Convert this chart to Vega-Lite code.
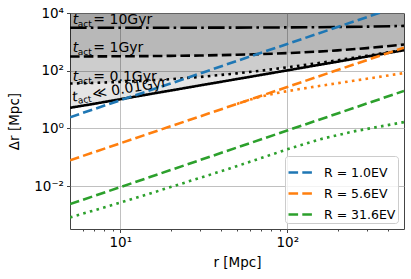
{
  "$schema": "https://vega.github.io/schema/vega-lite/v6.json",
  "width": 334,
  "height": 216,
  "autosize": "none",
  "padding": {"left": 70, "top": 13, "right": 7, "bottom": 50},
  "config": {
    "font": "DejaVu Sans",
    "view": {"stroke": "#444", "strokeWidth": 1},
    "axis": {
      "domain": false,
      "grid": true,
      "gridColor": "#b0b0b0",
      "gridWidth": 0.8,
      "tickColor": "#444",
      "labelFont": "DejaVu Sans",
      "labelFontSize": 13.5,
      "labelColor": "#000",
      "titleFont": "DejaVu Sans",
      "titleFontSize": 13.5,
      "titleFontWeight": "normal",
      "titleColor": "#000",
      "labelOverlap": false,
      "labelFlush": false
    },
    "legend": {
      "labelFont": "DejaVu Sans",
      "labelFontSize": 12.5,
      "labelColor": "#000"
    }
  },
  "datasets": {
    "black": [
      {"r": 5, "dr": 5.2, "style": "solid"}, {"r": 7, "dr": 7.2, "style": "solid"}, {"r": 10, "dr": 10.3, "style": "solid"}, {"r": 15, "dr": 15.5, "style": "solid"}, {"r": 20, "dr": 20.6, "style": "solid"}, {"r": 30, "dr": 31, "style": "solid"}, {"r": 50, "dr": 51.5, "style": "solid"}, {"r": 70, "dr": 72, "style": "solid"}, {"r": 100, "dr": 103, "style": "solid"}, {"r": 150, "dr": 155, "style": "solid"}, {"r": 200, "dr": 206, "style": "solid"}, {"r": 300, "dr": 309, "style": "solid"}, {"r": 500, "dr": 515, "style": "solid"},
      {"r": 5, "dr": 36, "style": "dotted"}, {"r": 7, "dr": 38, "style": "dotted"}, {"r": 10, "dr": 41, "style": "dotted"}, {"r": 15, "dr": 46, "style": "dotted"}, {"r": 20, "dr": 51, "style": "dotted"}, {"r": 30, "dr": 61, "style": "dotted"}, {"r": 50, "dr": 81, "style": "dotted"}, {"r": 70, "dr": 101, "style": "dotted"}, {"r": 100, "dr": 131, "style": "dotted"}, {"r": 150, "dr": 181, "style": "dotted"}, {"r": 200, "dr": 231, "style": "dotted"}, {"r": 300, "dr": 331, "style": "dotted"}, {"r": 500, "dr": 531, "style": "dotted"},
      {"r": 5, "dr": 312, "style": "dashed"}, {"r": 7, "dr": 314, "style": "dashed"}, {"r": 10, "dr": 317, "style": "dashed"}, {"r": 15, "dr": 322, "style": "dashed"}, {"r": 20, "dr": 327, "style": "dashed"}, {"r": 30, "dr": 337, "style": "dashed"}, {"r": 50, "dr": 357, "style": "dashed"}, {"r": 70, "dr": 377, "style": "dashed"}, {"r": 100, "dr": 407, "style": "dashed"}, {"r": 150, "dr": 457, "style": "dashed"}, {"r": 200, "dr": 507, "style": "dashed"}, {"r": 300, "dr": 607, "style": "dashed"}, {"r": 500, "dr": 807, "style": "dashed"},
      {"r": 5, "dr": 3075, "style": "dashdot"}, {"r": 7, "dr": 3077, "style": "dashdot"}, {"r": 10, "dr": 3080, "style": "dashdot"}, {"r": 15, "dr": 3085, "style": "dashdot"}, {"r": 20, "dr": 3090, "style": "dashdot"}, {"r": 30, "dr": 3100, "style": "dashdot"}, {"r": 50, "dr": 3120, "style": "dashdot"}, {"r": 70, "dr": 3140, "style": "dashdot"}, {"r": 100, "dr": 3170, "style": "dashdot"}, {"r": 150, "dr": 3220, "style": "dashdot"}, {"r": 200, "dr": 3270, "style": "dashdot"}, {"r": 300, "dr": 3370, "style": "dashdot"}, {"r": 500, "dr": 3570, "style": "dashdot"}
    ],
    "colored": [
      {"r": 5, "dr": 2.45, "R": "R = 1.0EV", "style": "dashed"}, {"r": 10, "dr": 9.5, "R": "R = 1.0EV", "style": "dashed"}, {"r": 20, "dr": 36, "R": "R = 1.0EV", "style": "dashed"}, {"r": 50, "dr": 219, "R": "R = 1.0EV", "style": "dashed"}, {"r": 100, "dr": 845, "R": "R = 1.0EV", "style": "dashed"}, {"r": 200, "dr": 3270, "R": "R = 1.0EV", "style": "dashed"}, {"r": 350, "dr": 9730, "R": "R = 1.0EV", "style": "dashed"}, {"r": 500, "dr": 19500, "R": "R = 1.0EV", "style": "dashed"},
      {"r": 5, "dr": 0.079, "R": "R = 5.6EV", "style": "dashed"}, {"r": 10, "dr": 0.307, "R": "R = 5.6EV", "style": "dashed"}, {"r": 20, "dr": 1.19, "R": "R = 5.6EV", "style": "dashed"}, {"r": 50, "dr": 7.08, "R": "R = 5.6EV", "style": "dashed"}, {"r": 100, "dr": 27.4, "R": "R = 5.6EV", "style": "dashed"}, {"r": 200, "dr": 106, "R": "R = 5.6EV", "style": "dashed"}, {"r": 500, "dr": 631, "R": "R = 5.6EV", "style": "dashed"},
      {"r": 50, "dr": 7.1, "R": "R = 5.6EV", "style": "dotted"}, {"r": 60, "dr": 10.0, "R": "R = 5.6EV", "style": "dotted"}, {"r": 70, "dr": 12.8, "R": "R = 5.6EV", "style": "dotted"}, {"r": 85, "dr": 16.5, "R": "R = 5.6EV", "style": "dotted"}, {"r": 104, "dr": 20.4, "R": "R = 5.6EV", "style": "dotted"}, {"r": 137, "dr": 26.5, "R": "R = 5.6EV", "style": "dotted"}, {"r": 250, "dr": 45, "R": "R = 5.6EV", "style": "dotted"}, {"r": 500, "dr": 83, "R": "R = 5.6EV", "style": "dotted"},
      {"r": 5, "dr": 0.0024, "R": "R = 31.6EV", "style": "dashed"}, {"r": 10, "dr": 0.0093, "R": "R = 31.6EV", "style": "dashed"}, {"r": 20, "dr": 0.0363, "R": "R = 31.6EV", "style": "dashed"}, {"r": 50, "dr": 0.219, "R": "R = 31.6EV", "style": "dashed"}, {"r": 100, "dr": 0.851, "R": "R = 31.6EV", "style": "dashed"}, {"r": 200, "dr": 3.31, "R": "R = 31.6EV", "style": "dashed"}, {"r": 500, "dr": 20, "R": "R = 31.6EV", "style": "dashed"},
      {"r": 5, "dr": 0.00083, "R": "R = 31.6EV", "style": "dotted"}, {"r": 10, "dr": 0.00269, "R": "R = 31.6EV", "style": "dotted"}, {"r": 20, "dr": 0.00933, "R": "R = 31.6EV", "style": "dotted"}, {"r": 45.6, "dr": 0.0417, "R": "R = 31.6EV", "style": "dotted"}, {"r": 100, "dr": 0.19, "R": "R = 31.6EV", "style": "dotted"}, {"r": 158, "dr": 0.427, "R": "R = 31.6EV", "style": "dotted"}, {"r": 250, "dr": 0.794, "R": "R = 31.6EV", "style": "dotted"}, {"r": 500, "dr": 1.66, "R": "R = 31.6EV", "style": "dotted"}
    ],
    "labels": [
      {"r": 5.2, "dr": 4150, "rest": "= 10Gyr"},
      {"r": 5.2, "dr": 436, "rest": "= 1Gyr"},
      {"r": 5.2, "dr": 45.4, "rest": "= 0.1Gyr"},
      {"r": 5.2, "dr": 8.5, "rest": "≪ 0.01Gyr"}
    ]
  },
  "encoding": {
    "x": {
      "field": "r", "type": "quantitative",
      "scale": {"type": "log", "domain": [5, 500], "nice": false},
      "axis": {
        "title": "r [Mpc]",
        "titlePadding": 6,
        "values": [6, 7, 8, 9, 10, 20, 30, 40, 50, 60, 70, 80, 90, 100, 200, 300, 400],
        "labelExpr": "datum.value == 10 ? '10¹' : (datum.value == 100 ? '10²' : '')",
        "tickSize": {"condition": {"test": "datum.value == 10 || datum.value == 100", "value": 3.5}, "value": 2},
        "gridOpacity": {"condition": {"test": "datum.value == 10 || datum.value == 100", "value": 1}, "value": 0},
        "labelPadding": 3
      }
    },
    "y": {
      "field": "dr", "type": "quantitative",
      "scale": {"type": "log", "domain": [0.00033, 10000], "nice": false},
      "axis": {
        "title": "Δr [Mpc]",
        "titlePadding": 12,
        "values": [0.01, 1, 100, 10000],
        "labelExpr": "datum.value < 0.1 ? '10⁻²' : (datum.value < 10 ? '10⁰' : (datum.value < 1000 ? '10²' : '10⁴'))",
        "tickSize": 3.5,
        "labelPadding": 3
      }
    }
  },
  "layer": [
    {
      "data": {"name": "black"},
      "mark": {"type": "area", "color": "#000", "opacity": 0.1, "clip": true},
      "encoding": {
        "y": {"field": "dr", "type": "quantitative", "stack": null},
        "y2": {"datum": 10000},
        "detail": {"field": "style"}
      }
    },
    {
      "data": {"name": "black"},
      "mark": {"type": "line", "color": "#000", "strokeWidth": 2.6, "clip": true},
      "encoding": {
        "strokeDash": {"field": "style", "type": "nominal", "legend": null,
          "scale": {"domain": ["solid", "dotted", "dashed", "dashdot"], "range": [[1, 0], [2.6, 4.3], [9.6, 4.2], [16.6, 4.2, 2.6, 4.2]]}}
      }
    },
    {
      "data": {"name": "colored"},
      "mark": {"type": "line", "strokeWidth": 2.6, "clip": true},
      "encoding": {
        "color": {"field": "R", "type": "nominal",
          "scale": {"domain": ["R = 1.0EV", "R = 5.6EV", "R = 31.6EV"], "range": ["#1f77b4", "#ff7f0e", "#2ca02c"]},
          "legend": {
            "title": null, "orient": "bottom-right", "offset": 6, "padding": 2,
            "strokeColor": "#cccccc", "fillColor": "rgba(255,255,255,0.8)", "cornerRadius": 3,
            "symbolType": "stroke", "symbolSize": 676, "symbolStrokeWidth": 2.6, "symbolDash": [9.6, 4.2],
            "rowPadding": -7, "labelOffset": 8
          }
        },
        "strokeDash": {"field": "style", "type": "nominal", "legend": null},
        "detail": {"field": "R"}
      }
    },
    {
      "data": {"name": "labels"},
      "mark": {"type": "text", "align": "left", "baseline": "alphabetic", "fontSize": 14, "fontStyle": "italic", "text": "t"},
      "encoding": {
        "angle": {"condition": {"test": "indexof(datum.rest, '≪') >= 0", "value": 351}, "value": 0}
      }
    },
    {
      "data": {"name": "labels"},
      "mark": {"type": "text", "align": "left", "baseline": "alphabetic", "fontSize": 9, "text": "act", "dx": 5, "dy": 3},
      "encoding": {
        "angle": {"condition": {"test": "indexof(datum.rest, '≪') >= 0", "value": 351}, "value": 0}
      }
    },
    {
      "data": {"name": "labels"},
      "mark": {"type": "text", "align": "left", "baseline": "alphabetic", "fontSize": 14, "dx": 20.5},
      "encoding": {
        "text": {"field": "rest"},
        "angle": {"condition": {"test": "indexof(datum.rest, '≪') >= 0", "value": 351}, "value": 0}
      }
    }
  ]
}
